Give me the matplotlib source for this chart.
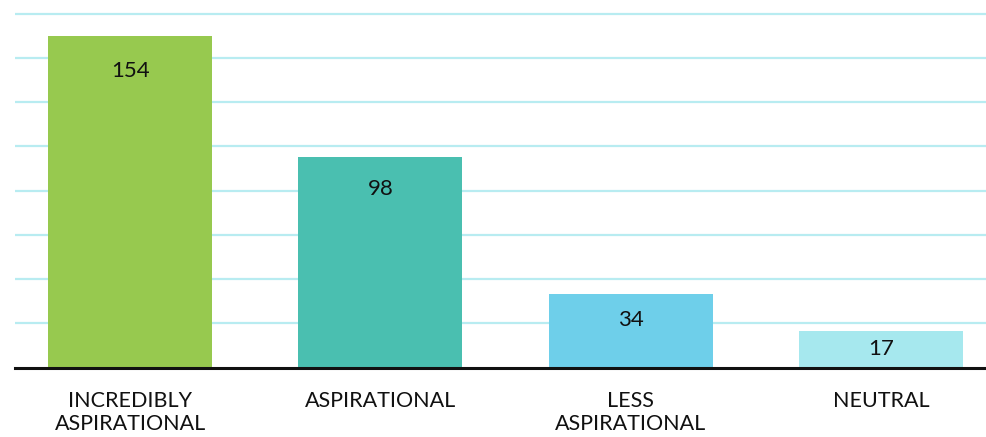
import matplotlib.pyplot as plt
import numpy as np

# chart data
categories = ["INCREDIBLY\nASPIRATIONAL", "ASPIRATIONAL", "LESS\nASPIRATIONAL", "NEUTRAL"]
values = [154, 98, 34, 17]
colors = ["#97c94f", "#4abfb0", "#6ecfea", "#a6e8ee"]
label_offsets = [-35, -32, -26, -18]   # px below bar top for value labels

plt.rcParams['font.family'] = ['Lato', 'DejaVu Sans']

fig = plt.figure(figsize=(9.86, 4.37), dpi=100)
ax = fig.add_axes([15 / 986, 69.5 / 437, 971 / 986, 367.5 / 437])

x = np.arange(len(categories))
ax.bar(x, values, width=0.656, color=colors, zorder=3)

# value labels inside the bars
for xi, v, off in zip(x, values, label_offsets):
    ax.annotate(str(v), (xi, v), xytext=(0, off * 0.72), textcoords="offset points",
                ha="center", va="center", fontsize=16, color="#111111", zorder=4)

ax.set_xlim(-0.46, 3.42)
ax.set_ylim(0, 170.7)

# light cyan gridlines
step = 20.55
ax.set_yticks(np.arange(step, 170, step))
ax.yaxis.grid(True, color="#b8ecf1", linewidth=1.6, zorder=0)
ax.tick_params(axis="y", length=0, labelleft=False)

ax.set_xticks(x)
ax.set_xticklabels(categories, fontsize=15.5, color="#111111", linespacing=1.2)
ax.tick_params(axis="x", length=0, pad=17)

for s in ["top", "right", "left"]:
    ax.spines[s].set_visible(False)
ax.spines["bottom"].set_linewidth(2.2)
ax.spines["bottom"].set_color("#111111")
ax.spines["bottom"].set_zorder(5)

fig.savefig("out.png", dpi=100)
